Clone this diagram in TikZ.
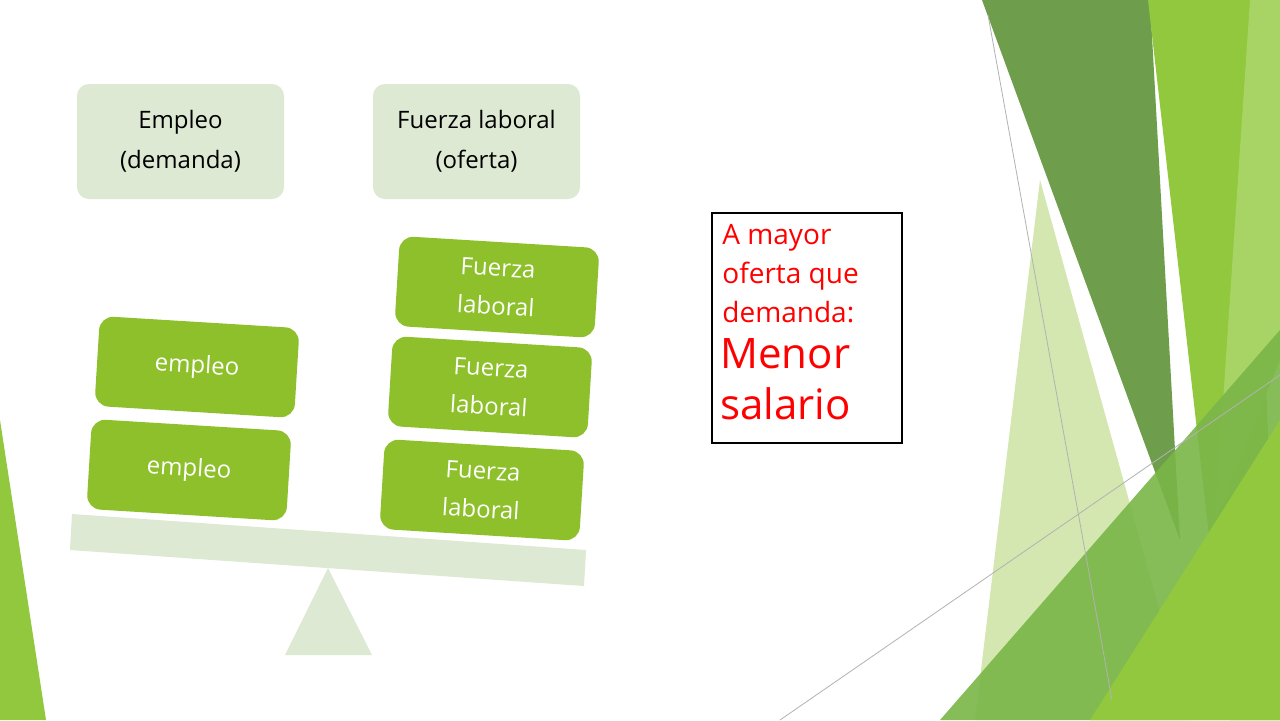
\documentclass[tikz,border=0pt]{standalone}
\usepackage{fontspec}
\setmainfont{Open Sans}
\begin{document}
\begin{tikzpicture}[x=0.5pt,y=-0.5pt,
 topbox/.style={fill=pale,rounded corners=6pt,minimum width=103.5pt,minimum height=57.5pt,align=center,font=\fontsize{12}{20}\selectfont,text=black},
 gbox/.style={fill=leaf,rounded corners=7pt,minimum width=100pt,minimum height=45pt,align=center,text=white,font=\fontsize{12}{19}\selectfont,rotate=-3.5}]
\definecolor{pale}{HTML}{DDE9D3}
\definecolor{leaf}{HTML}{8DC02A}
\definecolor{dk}{HTML}{6E9E4B}
\definecolor{md}{HTML}{7AB648}
\definecolor{lt}{HTML}{D4E7B0}
\definecolor{lime}{HTML}{92C83E}
\useasboundingbox (0,0) rectangle (1280,720);
\fill[white] (0,0) rectangle (1280,720);
% decorations right
\fill[lt] (1040,180) -- (1190,720) -- (975,720) -- cycle;
\fill[dk] (982,0) -- (1150,0) -- (1180,540) -- cycle;
\fill[lime] (1148,0) -- (1250,0) -- (1280,720) -- (1230,720) -- cycle;
\fill[lime!80!white] (1250,0) -- (1280,0) -- (1280,360) -- (1215,520) -- cycle;
\fill[md,opacity=0.9] (940,720) -- (1280,330) -- (1280,720) -- cycle;
\fill[lime] (1090,720) -- (1280,420) -- (1280,720) -- cycle;
\fill[lime] (0,420) -- (46,720) -- (0,720) -- cycle;
\draw[gray!60,line width=0.4pt] (988,15) -- (1112,700);
\draw[gray!60,line width=0.4pt] (780,720) -- (1280,375);
% top boxes
\node[topbox] (emp) at (180.5,141.5) {Empleo\\(demanda)};
\node[topbox] (fue) at (476.5,141.5) {Fuerza laboral\\(oferta)};
% beam and fulcrum
\fill[pale] (72,514) -- (586,550) -- (584,586) -- (70,550) -- cycle;
\fill[pale] (328,568) -- (285,655) -- (372,655) -- cycle;
% green boxes
\node[gbox] (e1) at (197,367) {empleo};
\node[gbox] (e2) at (189,470) {empleo};
\node[gbox] (f1) at (497,287) {Fuerza\\laboral};
\node[gbox] (f2) at (490,387) {Fuerza\\laboral};
\node[gbox] (f3) at (482,490) {Fuerza\\laboral};
% red box
\draw[black,line width=0.8pt] (712,213) rectangle (902,443);
\node[anchor=north west,align=left,text=red,inner sep=0pt,font=\fontsize{14}{19.5}\selectfont] (msg) at (722,224)
 {A mayor\\oferta que\\demanda:};
\node[anchor=north west,align=left,text=red,inner sep=0pt,font=\fontsize{21}{25.5}\selectfont] (msg2) at (720,338)
 {Menor\\salario};
\end{tikzpicture}
\end{document}
